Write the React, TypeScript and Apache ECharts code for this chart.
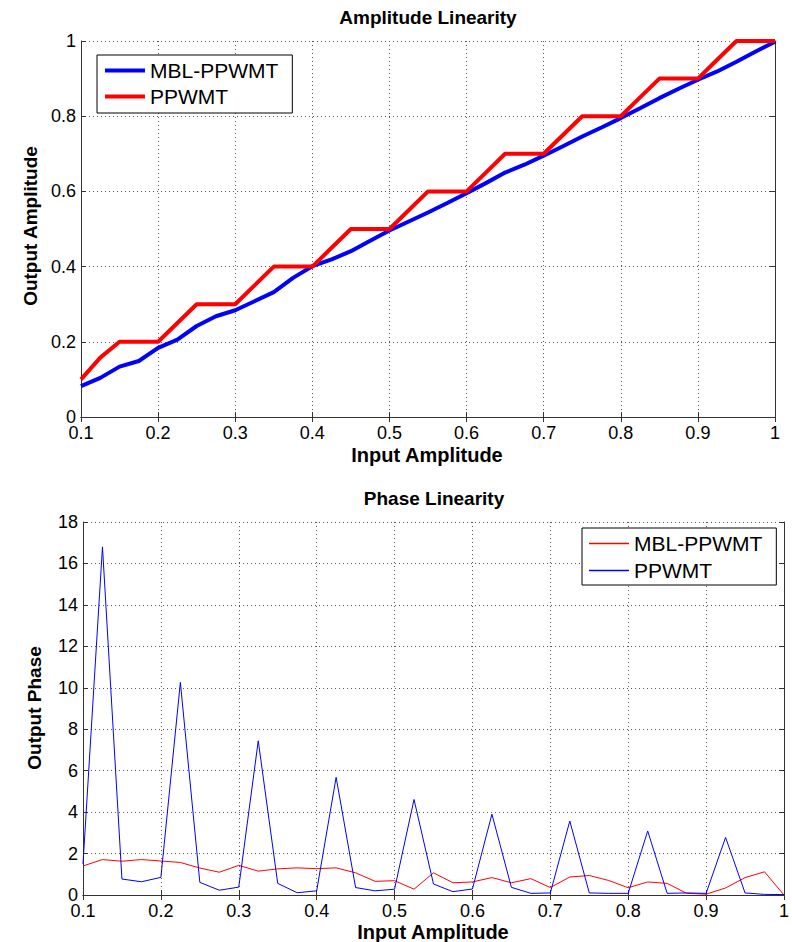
import React, { useEffect, useRef } from "react";
import * as echarts from "echarts";

const inputAmplitude = [
  0.1, 0.125, 0.15, 0.175, 0.2, 0.225, 0.25, 0.275, 0.3, 0.325, 0.35, 0.375, 0.4,
  0.425, 0.45, 0.475, 0.5, 0.525, 0.55, 0.575, 0.6, 0.625, 0.65, 0.675, 0.7,
  0.725, 0.75, 0.775, 0.8, 0.825, 0.85, 0.875, 0.9, 0.925, 0.95, 0.975, 1.0,
];

const ampMbl = [
  0.082, 0.104, 0.134, 0.149, 0.184, 0.206, 0.242, 0.268, 0.284, 0.308, 0.332,
  0.37, 0.401, 0.419, 0.441, 0.469, 0.496, 0.52, 0.544, 0.569, 0.595, 0.622,
  0.65, 0.671, 0.695, 0.72, 0.746, 0.77, 0.795, 0.821, 0.848, 0.873, 0.897,
  0.919, 0.945, 0.972, 0.998,
];

const ampPpwmt = [
  0.1, 0.158, 0.2, 0.2, 0.2, 0.25, 0.3, 0.3, 0.3, 0.35, 0.4, 0.4, 0.4, 0.45, 0.5,
  0.5, 0.5, 0.55, 0.6, 0.6, 0.6, 0.65, 0.7, 0.7, 0.7, 0.75, 0.8, 0.8, 0.8, 0.85,
  0.9, 0.9, 0.9, 0.95, 1, 1, 1,
];

const phaseMbl = [
  1.4, 1.71, 1.63, 1.71, 1.64, 1.57, 1.3, 1.1, 1.43, 1.15, 1.26, 1.31, 1.27,
  1.31, 1.07, 0.66, 0.69, 0.28, 1.07, 0.59, 0.63, 0.84, 0.59, 0.79, 0.36, 0.87,
  0.94, 0.7, 0.35, 0.63, 0.56, 0.08, 0.04, 0.34, 0.84, 1.12, 0.0,
];

const phasePpwmt = [
  1.5, 16.8, 0.77, 0.64, 0.85, 10.26, 0.61, 0.23, 0.38, 7.44, 0.56, 0.11, 0.2,
  5.68, 0.36, 0.2, 0.28, 4.61, 0.53, 0.16, 0.29, 3.9, 0.37, 0.08, 0.1, 3.57,
  0.1, 0.08, 0.08, 3.09, 0.08, 0.1, 0.08, 2.78, 0.1, 0.03, 0.02,
];

const FONT = "Liberation Sans, Arial, Helvetica, sans-serif";

const pairs = (ys: number[]) => inputAmplitude.map((x, i) => [x, ys[i]]);

const axisLine = { show: true, lineStyle: { color: "#333", width: 1 } };
const tickIn = { show: true, inside: true, length: 5, lineStyle: { color: "#333" } };
const dotted = {
  show: true,
  lineStyle: { color: "#555", width: 1, type: [1, 3] as any },
};
const labelStyle = { color: "#000", fontSize: 18, fontFamily: FONT, lineHeight: 14 };

function txt(text: string, x: number, y: number, size: number, bold: boolean, rot = 0) {
  return {
    type: "text",
    x,
    y,
    rotation: rot,
    silent: true,
    style: {
      text,
      fill: "#000",
      font: `${bold ? "bold " : ""}${size}px ${FONT}`,
      align: "center",
      verticalAlign: "middle",
      textAlign: "center",
      textVerticalAlign: "middle",
    },
  };
}

function buildOption(cfg: {
  grid: { left: number; right: number; top: number; height: number };
  yMax: number;
  yInterval: number;
  lineH: number;
  series: { name: string; color: string; width: number; data: number[] }[];
  legend: { left: number; top: number; padding: number[]; itemGap: number };
  graphics: any[];
}) {
  const xBase = { type: "value", min: 0.1, max: 1, interval: 0.1 };
  const yBase = { type: "value", min: 0, max: cfg.yMax, interval: cfg.yInterval };
  return {
    animation: false,
    grid: { ...cfg.grid, show: false },
    xAxis: [
      {
        ...xBase,
        position: "bottom",
        axisLine,
        axisTick: tickIn,
        axisLabel: { ...labelStyle, margin: 9 },
        splitLine: dotted,
      },
      {
        ...xBase,
        position: "top",
        axisLine,
        axisTick: tickIn,
        axisLabel: { show: false },
        splitLine: { show: false },
      },
    ],
    yAxis: [
      {
        ...yBase,
        position: "left",
        axisLine,
        axisTick: tickIn,
        axisLabel: { ...labelStyle, margin: 5 },
        splitLine: dotted,
      },
      {
        ...yBase,
        position: "right",
        axisLine,
        axisTick: tickIn,
        axisLabel: { show: false },
        splitLine: { show: false },
      },
    ],
    legend: {
      orient: "vertical",
      left: cfg.legend.left,
      top: cfg.legend.top,
      padding: cfg.legend.padding,
      itemGap: cfg.legend.itemGap,
      itemWidth: 40,
      itemHeight: cfg.lineH,
      icon: "rect",
      borderColor: "#000",
      borderWidth: 1,
      backgroundColor: "#fff",
      textStyle: { color: "#000", fontSize: 21, fontFamily: FONT, lineHeight: 20 },
      data: cfg.series.map((s) => s.name),
    },
    graphic: cfg.graphics,
    series: cfg.series.map((s) => ({
      name: s.name,
      type: "line",
      xAxisIndex: 0,
      yAxisIndex: 0,
      data: pairs(s.data),
      symbol: "none",
      showSymbol: false,
      color: s.color,
      lineStyle: { color: s.color, width: s.width },
      itemStyle: { color: s.color },
    })),
  };
}

function Chart({ option, top }: { option: any; top: number }) {
  const ref = useRef<HTMLDivElement>(null);
  useEffect(() => {
    if (!ref.current) return;
    const chart = echarts.init(ref.current, undefined, { renderer: "svg" });
    chart.setOption(option);
    return () => chart.dispose();
  }, [option]);
  return (
    <div
      ref={ref}
      style={{ position: "absolute", left: 0, top, width: 792, height: 471 }}
    />
  );
}

const topOption = buildOption({
  grid: { left: 81, right: 17, top: 41, height: 376 },
  yMax: 1,
  yInterval: 0.2,
  lineH: 4,
  series: [
    { name: "MBL-PPWMT", color: "#0000ff", width: 4, data: ampMbl },
    { name: "PPWMT", color: "#ff0000", width: 4, data: ampPpwmt },
  ],
  legend: { left: 97, top: 55, padding: [5, 14, 6, 8], itemGap: 5 },
  graphics: [
    txt("Amplitude Linearity", 428, 17, 19, true),
    txt("Input Amplitude", 427, 455, 20, true),
    txt("Output Amplitude", 30, 226, 19, true, Math.PI / 2),
  ],
});

const bottomOption = buildOption({
  grid: { left: 83, right: 6, top: 51, height: 373 },
  yMax: 18,
  yInterval: 2,
  lineH: 1.5,
  series: [
    { name: "MBL-PPWMT", color: "#ff0000", width: 1, data: phaseMbl },
    { name: "PPWMT", color: "#0000ff", width: 1, data: phasePpwmt },
  ],
  legend: { left: 582, top: 57, padding: [5, 14, 4, 7], itemGap: 6 },
  graphics: [
    txt("Phase Linearity", 434, 27, 19, true),
    txt("Input Amplitude", 433, 461, 20, true),
    txt("Output Phase", 34, 237, 19, true, Math.PI / 2),
  ],
});

export default function App() {
  return (
    <div style={{ position: "absolute", left: 0, top: 0, width: 792, height: 942, background: "#fff" }}>
      <Chart option={topOption} top={0} />
      <Chart option={bottomOption} top={471} />
    </div>
  );
}
